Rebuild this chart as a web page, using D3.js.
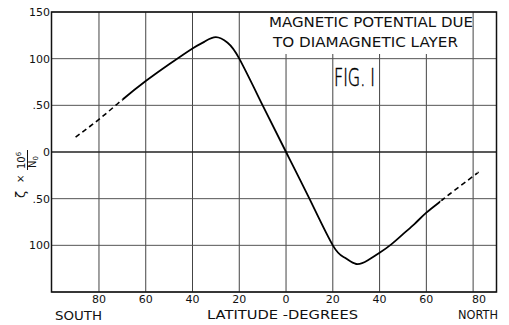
<!DOCTYPE html>
<html>
<head>
<meta charset="utf-8">
<script src="https://cdn.jsdelivr.net/npm/d3@7"></script>
<style>
  html, body { margin: 0; padding: 0; background: #fff; }
  svg { display: block; }
  text { font-family: "DejaVu Sans", "Liberation Sans", sans-serif; fill: #111; }
</style>
</head>
<body>
<svg id="chart" width="509" height="325"></svg>
<script>
// ---- data ----
const latitudes = [-90, -80, -70, -60, -50, -40, -35, -30, -25, -20, -10, 0, 10, 20, 25, 30, 35, 40, 45, 50, 55, 60, 66, 70, 80, 82];
const potential = [16, 35, 56, 76, 94, 111, 118, 123, 117, 100, 50, 0, -50, -100, -113, -120, -116, -108, -99, -88, -77, -65, -53, -45, -26, -22];
const solidRange = [-70, 66];

const xTickValues = [-80, -60, -40, -20, 0, 20, 40, 60, 80];
const xTickLabels = ["80", "60", "40", "20", "0", "20", "40", "60", "80"];
const yTickValues = [150, 100, 50, 0, -50, -100];
const yTickLabels = ["150", "100", ".50", "0", ".50", "100"];
const titleLines = ["MAGNETIC POTENTIAL DUE", "TO DIAMAGNETIC LAYER"];
const figLabel = "FIG. I";
const xAxisTitle = "LATITUDE -DEGREES";
const leftLabel = "SOUTH";
const rightLabel = "NORTH";

// ---- layout ----
const svg = d3.select("#chart");
const x = d3.scaleLinear().domain([-100.3, 90]).range([51.5, 496.5]);
const y = d3.scaleLinear().domain([-150, 150]).range([292, 12]);

const data = latitudes.map((d, i) => ({ lat: d, v: potential[i] }));

// grid
const grid = svg.append("g");
grid.selectAll("line.v").data(xTickValues).join("line")
  .attr("x1", d => x(d)).attr("x2", d => x(d))
  .attr("y1", y(150)).attr("y2", y(-150))
  .attr("stroke", "#444")
  .attr("stroke-width", 1);
grid.selectAll("line.h").data(yTickValues.concat([-150])).join("line")
  .attr("x1", x.range()[0]).attr("x2", x.range()[1])
  .attr("y1", d => y(d)).attr("y2", d => y(d))
  .attr("stroke", d => d === 0 ? "#222" : "#555")
  .attr("stroke-width", d => d === 0 ? 1.4 : 1);

// title box masking the grid
svg.append("rect")
  .attr("x", 262).attr("y", y(150) + 1)
  .attr("width", 207).attr("height", 41)
  .attr("fill", "#fff");

// border
svg.append("rect")
  .attr("x", x.range()[0]).attr("y", y(150))
  .attr("width", x.range()[1] - x.range()[0])
  .attr("height", y(-150) - y(150))
  .attr("fill", "none").attr("stroke", "#111").attr("stroke-width", 1.5);

// curve
const line = d3.line().x(d => x(d.lat)).y(d => y(d.v)).curve(d3.curveNatural);
const defs = svg.append("defs");
defs.append("clipPath").attr("id", "solidClip").append("rect")
  .attr("x", x(solidRange[0])).attr("y", 0)
  .attr("width", x(solidRange[1]) - x(solidRange[0])).attr("height", 325);
const dc = defs.append("clipPath").attr("id", "dashClip");
dc.append("rect").attr("x", 0).attr("y", 0).attr("width", x(solidRange[0])).attr("height", 325);
dc.append("rect").attr("x", x(solidRange[1])).attr("y", 0).attr("width", 509 - x(solidRange[1])).attr("height", 325);

svg.append("path").datum(data)
  .attr("d", line).attr("fill", "none")
  .attr("stroke", "#000").attr("stroke-width", 1.8)
  .attr("clip-path", "url(#solidClip)");
svg.append("path").datum(data)
  .attr("d", line).attr("fill", "none")
  .attr("stroke", "#000").attr("stroke-width", 1.6)
  .attr("stroke-dasharray", "5,3.5")
  .attr("clip-path", "url(#dashClip)");

// y tick labels
svg.selectAll("text.ytick").data(yTickValues).join("text")
  .attr("x", 50).attr("y", d => y(d) + 4)
  .attr("text-anchor", "end").attr("font-size", 11)
  .text((d, i) => yTickLabels[i]);

// x tick labels
svg.selectAll("text.xtick").data(xTickValues).join("text")
  .attr("x", d => x(d) + (d === 80 ? 6 : 0)).attr("y", 303)
  .attr("text-anchor", "middle").attr("font-size", 11)
  .text((d, i) => xTickLabels[i]);

// bottom labels
svg.append("text").attr("x", 55).attr("y", 320).attr("font-size", 13)
  .attr("textLength", 47).attr("lengthAdjust", "spacingAndGlyphs").text(leftLabel);
svg.append("text").attr("x", 207).attr("y", 319).attr("font-size", 13)
  .attr("textLength", 151).attr("lengthAdjust", "spacingAndGlyphs").text(xAxisTitle);
svg.append("text").attr("x", 458).attr("y", 319).attr("font-size", 13)
  .attr("textLength", 40).attr("lengthAdjust", "spacingAndGlyphs").text(rightLabel);

// title
svg.append("text").attr("x", 269).attr("y", 27).attr("font-size", 13.5)
  .attr("textLength", 204).attr("lengthAdjust", "spacingAndGlyphs").text(titleLines[0]);
svg.append("text").attr("x", 273).attr("y", 47).attr("font-size", 13.5)
  .attr("textLength", 185).attr("lengthAdjust", "spacingAndGlyphs").text(titleLines[1]);
svg.append("text").attr("x", 334).attr("y", 86).attr("font-size", 24)
  .attr("font-weight", 200)
  .style("fill", "#000").style("stroke", "#000").style("stroke-width", 0.5)
  .attr("textLength", 41).attr("lengthAdjust", "spacingAndGlyphs").text(figLabel);

// rotated y-axis label: ζ × 10^6 / N0
const yl = svg.append("g").attr("transform", "rotate(-90)");
// local x = -screenY, local y = screenX
yl.append("text").attr("x", -198).attr("y", 25).attr("font-size", 13).text("ζ");
yl.append("text").attr("x", -183).attr("y", 24).attr("font-size", 10).text("×");
const num = yl.append("text").attr("x", -169).attr("y", 25).attr("font-size", 10);
num.append("tspan").text("10");
num.append("tspan").attr("dy", -4).attr("font-size", 7).text("6");
yl.append("line").attr("x1", -170).attr("x2", -150).attr("y1", 27.5).attr("y2", 27.5)
  .attr("stroke", "#111").attr("stroke-width", 1);
const den = yl.append("text").attr("x", -168).attr("y", 36).attr("font-size", 10);
den.append("tspan").text("N");
den.append("tspan").attr("dy", 2).attr("font-size", 7).text("0");
</script>
</body>
</html>
